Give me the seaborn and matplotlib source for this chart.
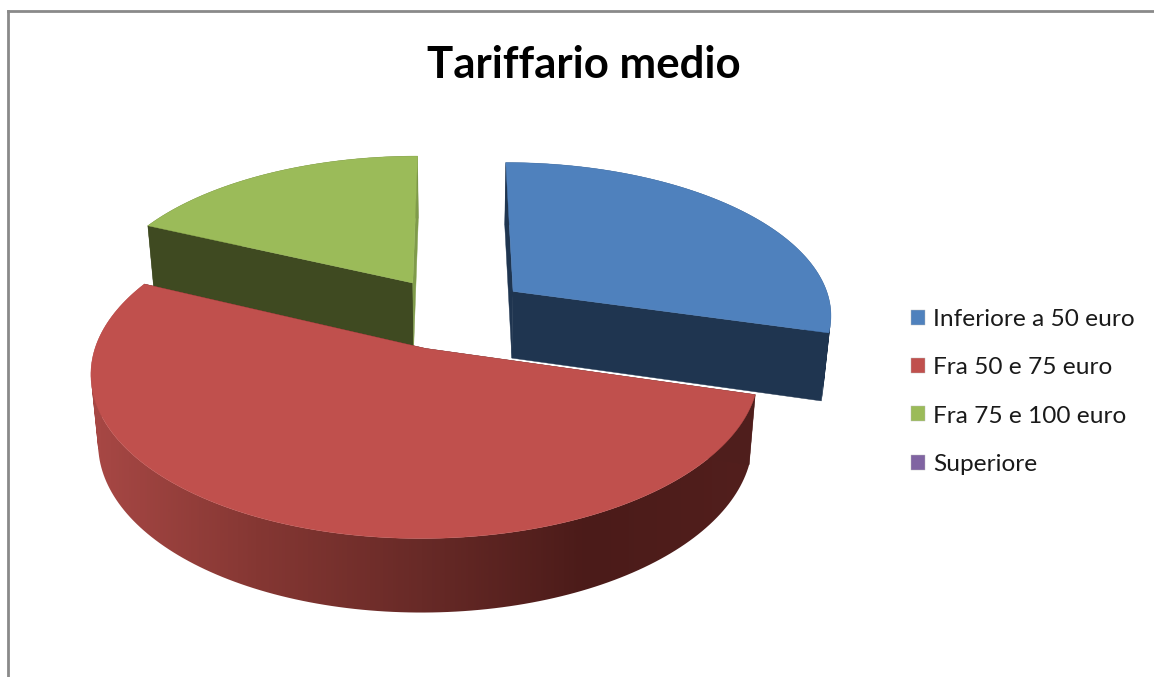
# Torta 3D esplosa: Tariffario medio

import matplotlib
matplotlib.use('Agg')
import matplotlib.pyplot as plt
from matplotlib.patches import Patch, PathPatch
from matplotlib.path import Path
import numpy as np
import seaborn as sns

# dati
titolo = 'Tariffario medio'
categorie = ['Inferiore a 50 euro', 'Fra 50 e 75 euro', 'Fra 75 e 100 euro', 'Superiore']
valori = [29.4, 52.5, 18.1, 0]

# colori
colori = ['#4F81BD', '#C0504D', '#9BBB59', '#8064A2']
tagli_inizio = ['#1F3550', '#4F1E1C', '#3F4A21', '#2F2540']
tagli_fine = ['#1F3550', '#4F1E1C', '#7F9B4A', '#2F2540']
bordi = [['#1F3550', '#1F3550'],
         ['#A84845', '#853733', '#682A27', '#4B1B19', '#521F1D'],
         ['#3F4A21', '#3F4A21'],
         ['#2F2540', '#2F2540']]

# parametri della vista
W, H = 1154, 677
ESPLOSO = 0.24
PROSPETTIVA = 0.14
CX, CY, RX, RY = 453, 313, 320, 152.5
SPESSORE = 67.4
RID_X = 0.98


def proietta(X, Y, basso=False):
    s = 1 / (1 + PROSPETTIVA * np.asarray(Y))
    x = RX * np.asarray(X) * s
    y = CY - RY * np.asarray(Y) * s
    if basso:
        x = x * RID_X
        y = y + SPESSORE * np.sqrt(s)
    return CX + x, y


def arco(c0, c1, a0, a1, n=160):
    a = np.linspace(a0, a1, n)
    return c0 + np.sin(a), c1 + np.cos(a)


def striscia(xa, ya, xb, yb):
    # quadrilateri con lo stesso verso, cosi' il ritaglio non lascia buchi
    pezzi = []
    for j in range(len(xa) - 1):
        q = np.array([[xa[j], ya[j]], [xa[j + 1], ya[j + 1]],
                      [xb[j + 1], yb[j + 1]], [xb[j], yb[j]], [xa[j], ya[j]]])
        area = np.sum(q[:-1, 0] * q[1:, 1] - q[1:, 0] * q[:-1, 1])
        if area < 0:
            q = q[::-1]
        pezzi.append(Path(q, closed=True))
    return Path.make_compound_path(*pezzi)


sns.set_theme(style='white')
plt.rcParams['font.family'] = ['Lato', 'DejaVu Sans']

fig = plt.figure(figsize=(W / 100, H / 100), dpi=100)
ax = fig.add_axes([8 / W, 0, 1 - 8 / W, 1 - 11 / H])
ax.set_xticks([])
ax.set_yticks([])
sns.despine(ax=ax, top=False, left=False, right=True, bottom=True)
for lato in ['top', 'left']:
    ax.spines[lato].set_color('#8A8A8A')
    ax.spines[lato].set_linewidth(2)

# angoli delle fette (senso orario dall'alto)
fine = np.cumsum(valori) / np.sum(valori) * 2 * np.pi
inizio = np.r_[0, fine[:-1]]
medio = (inizio + fine) / 2
cen_x = ESPLOSO * np.sin(medio)
cen_y = ESPLOSO * np.cos(medio)

# dal fondo verso chi guarda
z = 1
for i in np.argsort(-cen_y):
    if valori[i] == 0:
        continue
    c0, c1 = cen_x[i], cen_y[i]
    X, Y = arco(c0, c1, inizio[i], fine[i])

    # bordo esterno con sfumatura
    xa, ya = proietta(X, Y)
    xb, yb = proietta(X, Y, basso=True)
    scala = np.array(sns.blend_palette(bordi[i], n_colors=256))[:, :3]
    t = np.clip((np.arange(W) - 90) / (750 - 90), 0, 1)
    grad = scala[(t * 255).astype(int)][np.newaxis, :, :]
    sagoma = PathPatch(striscia(xa, ya, xb, yb), transform=ax.transData,
                       facecolor='none', edgecolor='none')
    ax.add_patch(sagoma)
    img = ax.imshow(grad, extent=(0, W, H, 0), aspect='auto', zorder=z,
                    interpolation='bilinear')
    img.set_clip_path(sagoma)
    z += 1

    # pareti dei tagli
    for k, col in [(0, tagli_inizio[i]), (-1, tagli_fine[i])]:
        xs = np.array([c0, X[k]])
        ys = np.array([c1, Y[k]])
        xa, ya = proietta(xs, ys)
        xb, yb = proietta(xs, ys, basso=True)
        ax.fill(np.r_[xa, xb[::-1]], np.r_[ya, yb[::-1]], color=col, lw=0.3, zorder=z)
        z += 1

    # faccia superiore
    xt, yt = proietta(np.r_[c0, X], np.r_[c1, Y])
    ax.fill(xt, yt, color=colori[i], lw=0.3, zorder=z)
    z += 1

ax.set_xlim(8, W)
ax.set_ylim(H, 11)

ax.set_title(titolo, fontsize=31.5, fontweight='bold', color='black',
             x=(584 - 8) / (W - 8), y=1 - (78 - 11) / (H - 11), pad=0)

maniglie = [Patch(facecolor=c, edgecolor='#BBBBBB', linewidth=0.3) for c in colori]
fig.legend(maniglie, categorie, loc='center left',
           bbox_to_anchor=(911 / W, 1 - 392 / H), frameon=False,
           fontsize=17.6, labelcolor='#1A1A1A', handlelength=0.57, handleheight=0.57,
           handletextpad=0.33, labelspacing=1.11, borderpad=0, borderaxespad=0)

fig.savefig('out.png', dpi=100)
